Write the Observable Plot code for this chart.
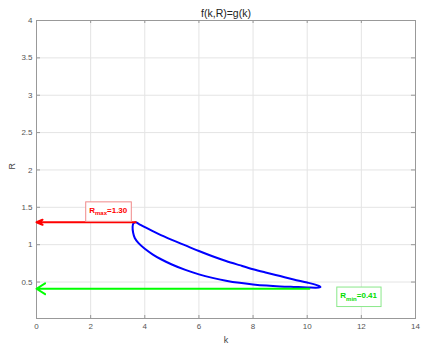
<!DOCTYPE html>
<html><head><meta charset="utf-8">
<script src="https://cdn.jsdelivr.net/npm/d3@7"></script>
<script src="https://cdn.jsdelivr.net/npm/@observablehq/plot@0.6"></script>
<style>
body{margin:0;background:#fff;}
svg{font-family:"Liberation Sans",Arial,sans-serif;opacity:0.999;}
</style></head><body>
<div id="chart"></div>
<script>
const title = "f(k,R)=g(k)";
const xLabel = "k";
const yLabel = "R";
const xTicks = [0, 2, 4, 6, 8, 10, 12, 14];
const yTicks = [0.5, 1, 1.5, 2, 2.5, 3, 3.5, 4];

// closed curve f(k,R)=g(k): upper branch from the top corner to the tip, then lower branch back
const curveK = [3.66, 3.8, 4.0, 4.5, 5.0, 5.5, 6.0, 6.5, 7.0, 7.5, 8.0, 8.5, 9.0, 9.5, 10.0, 10.3, 10.45, 10.49, 10.42, 10.3, 10.0, 9.5, 9.0, 8.5, 8.0, 7.5, 7.0, 6.5, 6.0, 5.5, 5.0, 4.6, 4.3, 4.0, 3.77, 3.63, 3.57, 3.55, 3.58];
const curveR = [1.30, 1.273, 1.235, 1.145, 1.065, 0.99, 0.915, 0.845, 0.782, 0.726, 0.672, 0.625, 0.580, 0.535, 0.493, 0.465, 0.446, 0.434, 0.426, 0.424, 0.428, 0.434, 0.441, 0.452, 0.468, 0.489, 0.518, 0.556, 0.603, 0.662, 0.735, 0.805, 0.868, 0.945, 1.02, 1.09, 1.16, 1.24, 1.285];

const Rmax = 1.30, kAtRmax = 3.66;
const Rmin = 0.41, kAtRmin = 10.08;
const maxLabel = ["R", "max", "=1.30"];
const minLabel = ["R", "min", "=0.41"];
const maxLabelPos = [2.65, 1.46];
const minLabelPos = [11.9, 0.32];

const curve = curveK.map((k, i) => ({k, R: curveR[i]}));

const plot = Plot.plot({
  width: 426,
  height: 354,
  marginLeft: 36,
  marginRight: 11,
  marginTop: 20,
  marginBottom: 36,
  style: {fontSize: "8px", color: "#555", fontFamily: "'Liberation Sans', Arial, sans-serif"},
  x: {domain: [0, 14]},
  y: {domain: [0.012, 4]},
  marks: [
    Plot.gridX(xTicks, {stroke: "#e4e4e4", strokeOpacity: 1}),
    Plot.gridY(yTicks, {stroke: "#e4e4e4", strokeOpacity: 1}),
    Plot.tickX(xTicks, {x: d => d, insetTop: 295, stroke: "#999"}),
    Plot.tickX(xTicks, {x: d => d, insetBottom: 295, stroke: "#999"}),
    Plot.tickY(yTicks, {y: d => d, insetLeft: 375, stroke: "#999"}),
    Plot.tickY(yTicks, {y: d => d, insetRight: 375, stroke: "#999"}),
    Plot.frame({stroke: "#999"}),
    Plot.axisX(xTicks, {tickSize: 0, tickPadding: 5, label: null, tickFormat: d => String(d), fill: "#555"}),
    Plot.axisY(yTicks, {tickSize: 0, tickPadding: 4, label: null, tickFormat: d => String(d), fill: "#555"}),
    Plot.line(curve, {x: "k", y: "R", curve: "catmull-rom-closed", stroke: "#0000ff", strokeWidth: 2}),
    Plot.arrow([{x1: kAtRmax, y1: Rmax, x2: 0, y2: Rmax}], {x1: "x1", y1: "y1", x2: "x2", y2: "y2", stroke: "#ff0000", strokeWidth: 2, headLength: 4.9, headAngle: 45}),
    Plot.arrow([{x1: kAtRmin, y1: Rmin, x2: 0, y2: Rmin}], {x1: "x1", y1: "y1", x2: "x2", y2: "y2", stroke: "#00ff00", strokeWidth: 2, headLength: 7.6, headAngle: 64}),
    Plot.text([maxLabel.join("|")], {x: () => maxLabelPos[0], y: () => maxLabelPos[1], fill: "#ff0000", fontWeight: "bold", fontSize: 8}),
    Plot.text([minLabel.join("|")], {x: () => minLabelPos[0], y: () => minLabelPos[1], fill: "#00dd00", fontWeight: "bold", fontSize: 8}),
    Plot.text([title], {frameAnchor: "top", lineAnchor: "middle", dy: -7, fontSize: 10.5, fill: "#222"}),
    Plot.text([xLabel], {frameAnchor: "bottom", lineAnchor: "middle", dy: 22, fontSize: 9, fill: "#444"}),
    Plot.text([yLabel], {frameAnchor: "left", dx: -24, rotate: -90, fontSize: 9, fill: "#444"})
  ]
});

document.getElementById("chart").appendChild(plot);

const boxColors = {"#ff0000": "#f08a8a", "#00dd00": "#8ae88a"};
d3.select(plot).selectAll("g[aria-label='text'] text").each(function () {
  const t = this.textContent;
  if (!t.includes("|")) return;
  const parts = t.split("|");
  const el = d3.select(this);
  el.text(null);
  el.append("tspan").text(parts[0]);
  el.append("tspan").attr("font-size", 6).attr("dy", 2.5).text(parts[1]);
  el.append("tspan").attr("dy", -2.5).text(parts[2]);
  const g = this.parentNode;
  const fill = g.getAttribute("fill");
  const bb = this.getBBox();
  const padX = 3.5, padY = 4.5;
  const rect = d3.select(g).insert("rect", () => this)
    .attr("x", bb.x - padX).attr("y", bb.y - padY + 0.5)
    .attr("width", bb.width + 2 * padX).attr("height", bb.height + 2 * padY)
    .attr("fill", "white").attr("stroke", boxColors[fill] || "#ccc").attr("stroke-width", 1);
  const tr = this.getAttribute("transform");
  if (tr) rect.attr("transform", tr);
});
</script>
</body></html>
